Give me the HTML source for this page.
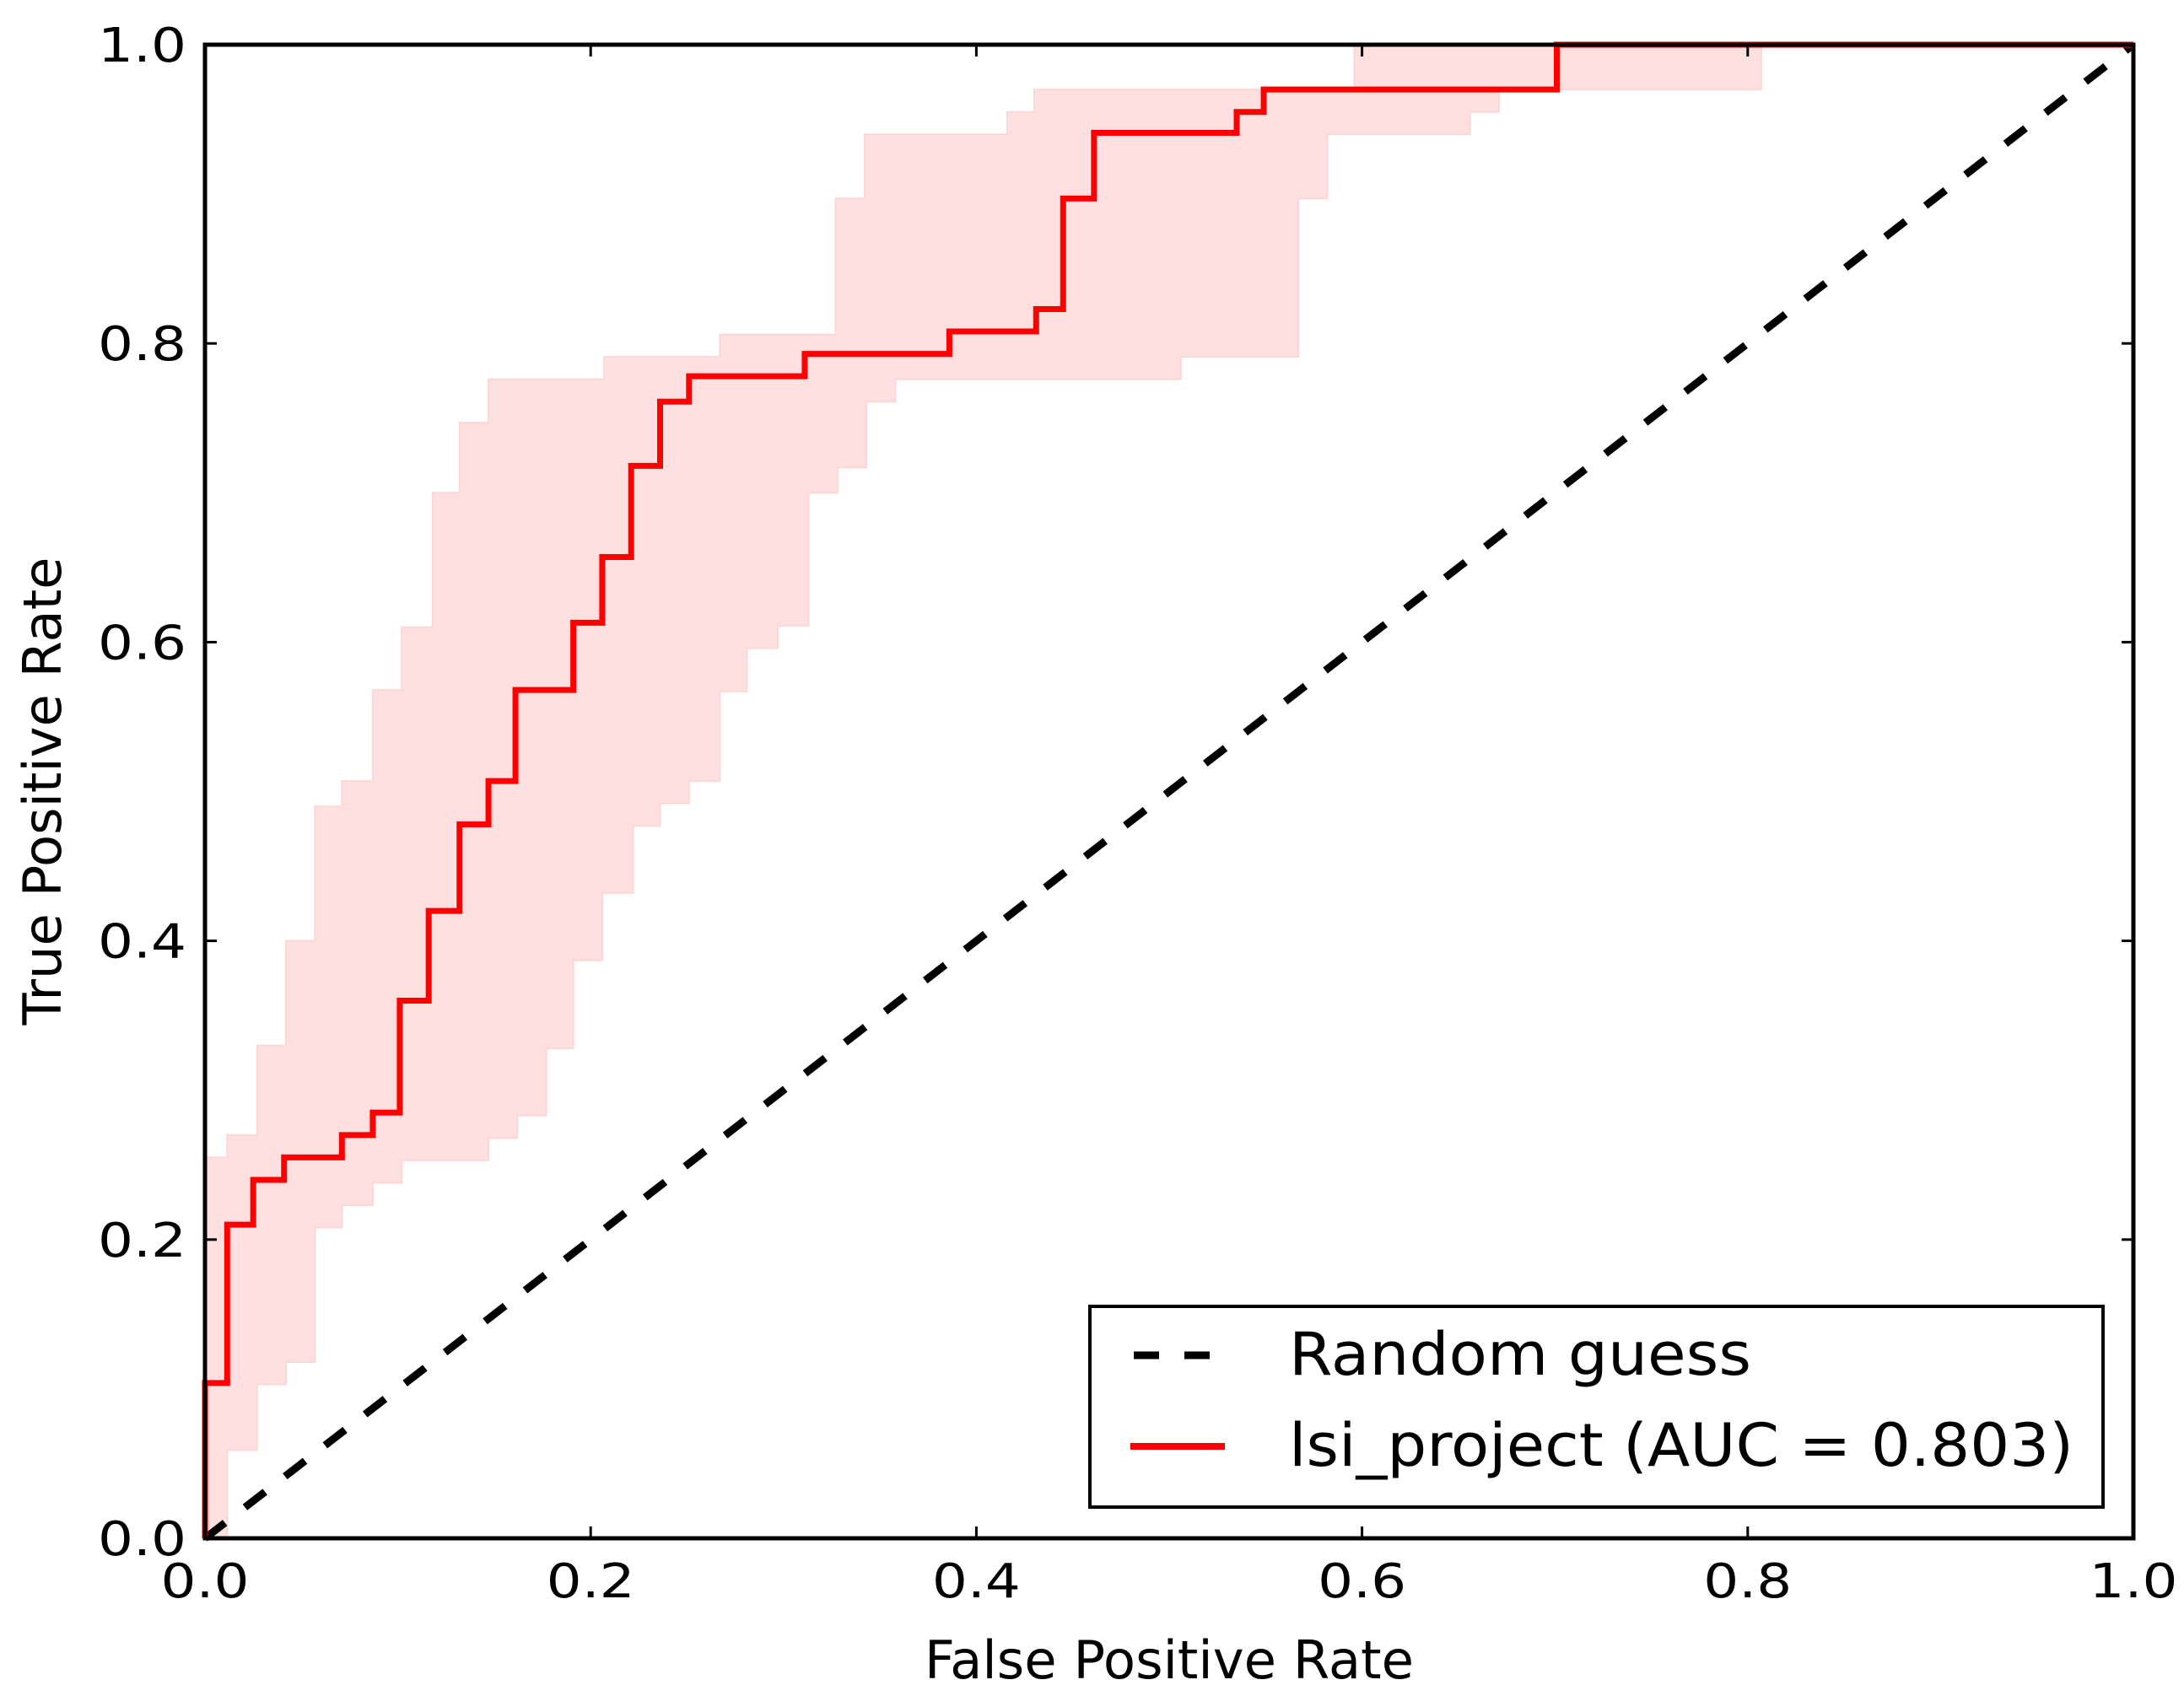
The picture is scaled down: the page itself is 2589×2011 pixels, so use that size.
<!DOCTYPE html>
<html><head><meta charset="utf-8"><style>
html,body{margin:0;padding:0;background:#fff}
svg{display:block}
text{font-family:"DejaVu Sans","Liberation Sans",sans-serif;fill:#000}
</style></head><body>
<svg id="chart" width="2589" height="2011" viewBox="0 0 2589 2011">
<g id="band"></g>
<g id="lines"></g>
<g id="axes"></g>
</svg>
<script>
// ROC step data: at fpr[i] the tpr rises to tpr[i]
const rocFpr=[0,0.0115,0.025,0.041,0.071,0.087,0.101,0.116,0.132,0.147,0.161,0.191,0.206,0.221,0.236,0.251,0.311,0.386,0.431,0.445,0.461,0.535,0.549,0.701];
const rocTpr=[0.104,0.21,0.24,0.255,0.27,0.285,0.36,0.42,0.478,0.507,0.568,0.613,0.657,0.718,0.761,0.778,0.793,0.808,0.823,0.897,0.941,0.955,0.970,1.0];
const upFpr=[0,0.0115,0.027,0.042,0.057,0.071,0.087,0.102,0.118,0.132,0.147,0.207,0.267,0.327,0.342,0.416,0.430,0.596];
const upTpr=[0.255,0.27,0.33,0.40,0.49,0.507,0.568,0.61,0.70,0.747,0.776,0.791,0.806,0.897,0.94,0.955,0.970,1.0];
const loFpr=[0,0.0115,0.027,0.042,0.057,0.071,0.087,0.102,0.147,0.162,0.177,0.191,0.206,0.222,0.236,0.251,0.267,0.281,0.297,0.313,0.328,0.343,0.358,0.506,0.567,0.582,0.656,0.671,0.807];
const loTpr=[0,0.059,0.103,0.118,0.208,0.223,0.238,0.253,0.268,0.283,0.328,0.387,0.432,0.477,0.492,0.507,0.567,0.596,0.611,0.70,0.717,0.761,0.776,0.791,0.897,0.94,0.955,0.97,1.0];
const xTicks=[0,0.2,0.4,0.6,0.8,1.0];
const yTicks=[0,0.2,0.4,0.6,0.8,1.0];
const tickLabels=["0.0","0.2","0.4","0.6","0.8","1.0"];

const L=243,R=2529,T=53,B=1824;
const sx=v=>L+v*(R-L), sy=v=>B-v*(B-T);
const NS="http://www.w3.org/2000/svg";
function mk(tag,attrs,parent){const e=document.createElementNS(NS,tag);for(const k in attrs)e.setAttribute(k,attrs[k]);parent.appendChild(e);return e;}
function stepPts(fx,ty){const p=[[sx(0),sy(0)]];for(let i=0;i<fx.length;i++){const x=sx(fx[i]);p.push([x,p[p.length-1][1]]);p.push([x,sy(ty[i])]);}p.push([sx(1),p[p.length-1][1]]);return p;}
const band=document.getElementById('band'),lines=document.getElementById('lines'),axes=document.getElementById('axes');
const up=stepPts(upFpr,upTpr), lo=stepPts(loFpr,loTpr);
const poly=up.concat(lo.slice().reverse()).map(p=>p.join(',')).join(' ');
const bp=mk('polygon',{points:poly,fill:'#ffe0e0',stroke:'#ffd6d6','stroke-width':2},band);


const diag=mk('line',{x1:sx(0),y1:sy(0),x2:sx(1),y2:sy(1),stroke:'#000','stroke-width':9,'stroke-dasharray':'30 30'},lines);


const roc=mk('polyline',{points:stepPts(rocFpr,rocTpr).map(p=>p.join(',')).join(' '),fill:'none',stroke:'#ff0000','stroke-width':7},lines);


const frame=mk('rect',{x:L,y:T,width:R-L,height:B-T,fill:'none',stroke:'#000','stroke-width':5},axes);


xTicks.forEach((v,i)=>{const x=sx(v);
 mk('line',{x1:x,y1:B,x2:x,y2:B-14,stroke:'#000','stroke-width':3},axes);
 mk('line',{x1:x,y1:T,x2:x,y2:T+14,stroke:'#000','stroke-width':3},axes);
 const t=mk('text',{x:x,y:B+70,'text-anchor':'middle','font-size':56,textLength:105,lengthAdjust:'spacingAndGlyphs'},axes);t.textContent=tickLabels[i];
 
 });
yTicks.forEach((v,i)=>{const y=sy(v);
 mk('line',{x1:L,y1:y,x2:L+14,y2:y,stroke:'#000','stroke-width':3},axes);
 mk('line',{x1:R,y1:y,x2:R-14,y2:y,stroke:'#000','stroke-width':3},axes);
 const t=mk('text',{x:L-22,y:y+20,'text-anchor':'end','font-size':56,textLength:105,lengthAdjust:'spacingAndGlyphs'},axes);t.textContent=tickLabels[i];
 
 });
</script>
<svg style="position:absolute;left:0;top:0" width="2589" height="2011">
<text x="1386" y="1990" text-anchor="middle" font-size="62" textLength="580" lengthAdjust="spacingAndGlyphs">False Positive Rate</text>
<text transform="translate(72,938) rotate(-90)" text-anchor="middle" font-size="62" textLength="555" lengthAdjust="spacingAndGlyphs">True Positive Rate</text>
<g>
<rect x="1292" y="1549" width="1201" height="238" fill="#fff" stroke="#000" stroke-width="4"/>
<line x1="1344" y1="1607" x2="1446" y2="1607" stroke="#000" stroke-width="9" stroke-dasharray="30 30"/>
<text x="1528" y="1630" font-size="70" textLength="548" lengthAdjust="spacingAndGlyphs">Random guess</text>
<line x1="1340" y1="1715" x2="1452" y2="1715" stroke="#ff0000" stroke-width="8"/>
<text x="1528" y="1738" font-size="70" textLength="930" lengthAdjust="spacingAndGlyphs">lsi_project (AUC = 0.803)</text>
</g>
</svg>
</body></html>
